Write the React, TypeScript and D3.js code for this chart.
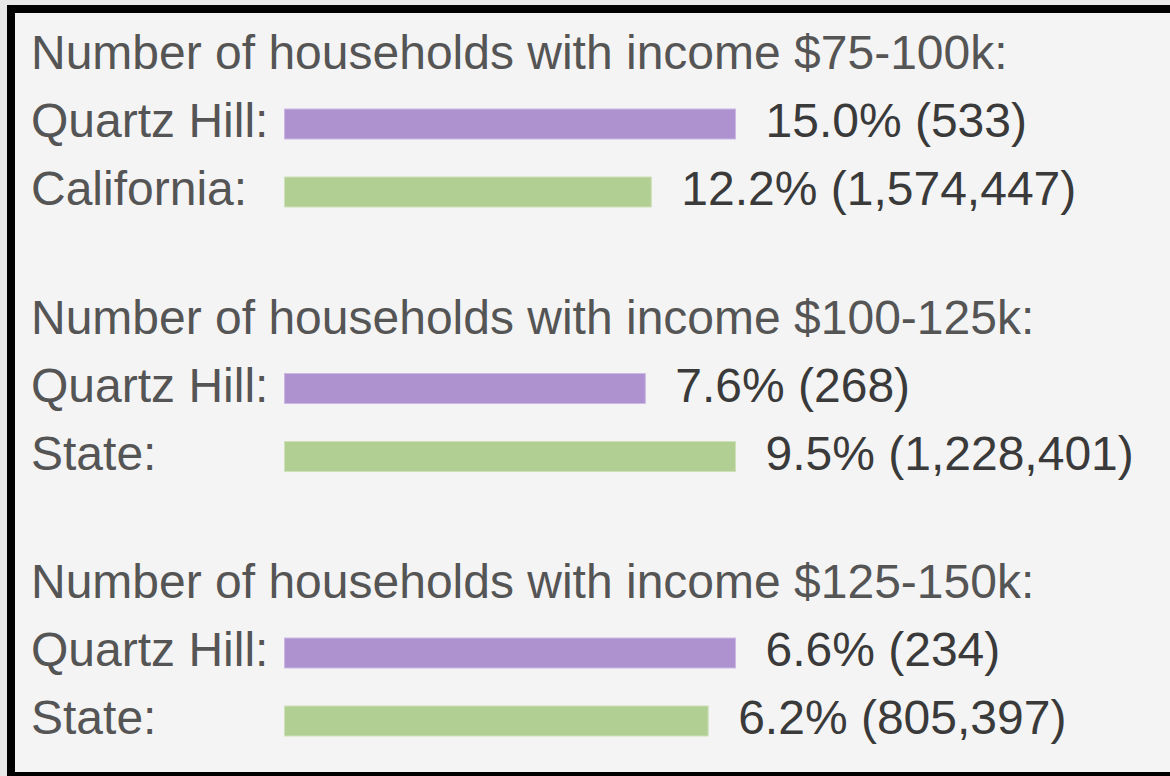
import * as d3 from "d3";
import React from "react";

const groupTitles = [
  "Number of households with income $75-100k:",
  "Number of households with income $100-125k:",
  "Number of households with income $125-150k:",
];
const placeLabels = [
  ["Quartz Hill:", "California:"],
  ["Quartz Hill:", "State:"],
  ["Quartz Hill:", "State:"],
];
const localPct = [15.0, 7.6, 6.6];
const localCount = [533, 268, 234];
const statePct = [12.2, 9.5, 6.2];
const stateCount = [1574447, 1228401, 805397];

const W = 1170;
const H = 776;
const FONT = "'Liberation Sans', Arial, sans-serif";

export default function App() {
  const barLeft = 284.5;
  const barMaxW = 451;
  const groupY = d3.scaleLinear().domain([0, 1]).range([69, 333.5]);
  const fmt = d3.format(",");
  const colors = ["#ae92cf", "#b2cf93"];
  const strokes = ["#cbb9e3", "#cde0b8"];

  return (
    <svg
      width={W}
      height={H}
      style={{ position: "fixed", left: 0, top: 0, display: "block" }}
      fontFamily={FONT}
    >
      <rect x={0} y={0} width={W} height={H} fill="#e8e8e8" />
      <rect x={11} y={9} width={W} height={767} fill="#f4f4f4" stroke="#000" strokeWidth={8} />
      {groupTitles.map((title, g) => {
        const base = groupY(g);
        const x = d3.scaleLinear()
          .domain([0, Math.max(localPct[g], statePct[g])])
          .range([0, barMaxW]);
        const rows = [
          { label: placeLabels[g][0], pct: localPct[g], n: localCount[g] },
          { label: placeLabels[g][1], pct: statePct[g], n: stateCount[g] },
        ];
        return (
          <g key={g}>
            <text x={31} y={base} fontSize={48} fill="#555">{title}</text>
            {rows.map((r, i) => {
              const by = base + 68 * (i + 1);
              const w = x(r.pct);
              return (
                <g key={i}>
                  <text x={31} y={by} fontSize={48} fill="#555">{r.label}</text>
                  <rect
                    x={barLeft}
                    y={by - 28}
                    width={w}
                    height={30}
                    fill={colors[i]}
                    stroke={strokes[i]}
                    strokeWidth={1}
                  />
                  <text x={barLeft + w + 30} y={by} fontSize={48} fill="#3a3a3a">
                    {r.pct.toFixed(1) + "% (" + fmt(r.n) + ")"}
                  </text>
                </g>
              );
            })}
          </g>
        );
      })}
    </svg>
  );
}
